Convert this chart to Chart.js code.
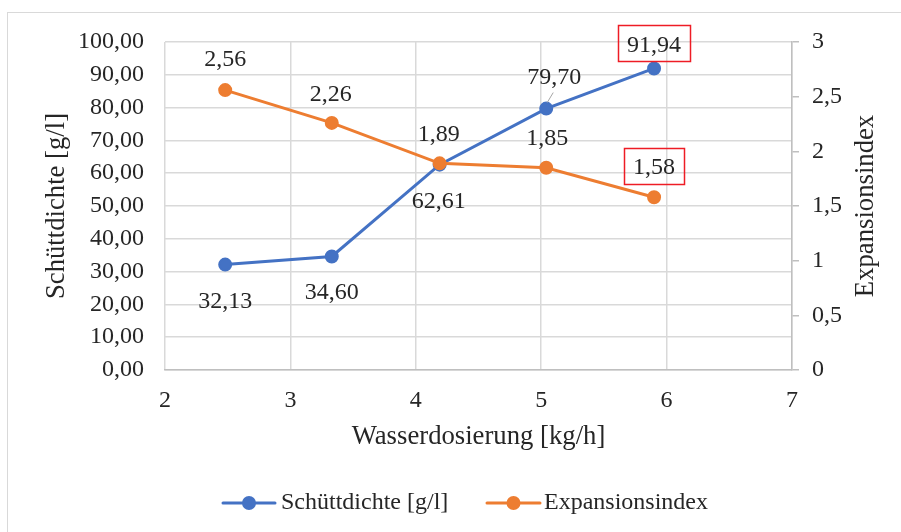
<!DOCTYPE html>
<html>
<head>
<meta charset="utf-8">
<script src="https://cdn.jsdelivr.net/npm/chart.js@4/dist/chart.umd.min.js"></script>
<style>
  html, body { margin: 0; padding: 0; background: #ffffff; }
  #wrap { width: 901px; height: 532px; }
</style>
</head>
<body>
<div id="wrap"><canvas id="chart" width="901" height="532"></canvas></div>
<script>
// Wasserdosierung [kg/h]
const wasserdosierung = [2.48, 3.33, 4.19, 5.04, 5.9];
// Schüttdichte [g/l]
const schuettdichte = [32.13, 34.60, 62.61, 79.70, 91.94];
// Expansionsindex
const expansionsindex = [2.56, 2.26, 1.89, 1.85, 1.58];

const seriesNames = ['Schüttdichte [g/l]', 'Expansionsindex'];
const xTitle = 'Wasserdosierung [kg/h]';

const BLUE = '#4472C4';
const ORANGE = '#ED7D31';
const TEXT = '#262626';
const GRID = '#d9d9d9';
const FONT = '"Liberation Serif", "Times New Roman", serif';
const FS = 24;      // ticks, value labels, legend
const FS_T = 26.7;  // axis titles

const comma = (v, d) => v.toFixed(d).replace('.', ',');

// value label placement relative to each point (dx, dy of the text centre)
const labelStyle = [
  { offsets: [[0, 35], [0, 34], [-1, 35], [8, -33], [0, -25]],
    boxed: [false, false, false, false, true],
    leader: [false, false, false, true, false] },
  { offsets: [[0, -32], [-1, -30], [-1, -30], [1, -31], [0, -31]],
    boxed: [false, false, false, false, true],
    leader: [false, false, false, false, false] }
];

const valueLabels = {
  id: 'valueLabels',
  afterDatasetsDraw(chart) {
    const ctx = chart.ctx;
    ctx.save();
    ctx.font = FS + 'px ' + FONT;
    ctx.textAlign = 'center';
    ctx.textBaseline = 'alphabetic';
    chart.data.datasets.forEach((ds, di) => {
      const meta = chart.getDatasetMeta(di);
      const st = labelStyle[di];
      meta.data.forEach((pt, i) => {
        const text = comma(ds.data[i].y, 2);
        const cx = pt.x + st.offsets[i][0];
        const cy = pt.y + st.offsets[i][1];
        if (st.leader[i]) {
          ctx.strokeStyle = '#a6a6a6';
          ctx.lineWidth = 1;
          ctx.beginPath();
          ctx.moveTo(pt.x + 1, pt.y - 6);
          ctx.lineTo(pt.x + 7, pt.y - 16);
          ctx.stroke();
        }
        ctx.fillStyle = TEXT;
        ctx.fillText(text, cx, cy + FS * 0.338);
        if (st.boxed[i]) {
          const w = ctx.measureText(text).width + 18;
          const h = 36;
          ctx.strokeStyle = '#ee1c25';
          ctx.lineWidth = 1.5;
          ctx.strokeRect(Math.round(cx - w / 2) + 0.5, Math.round(cy - h / 2) + 0.5, Math.round(w), h);
        }
      });
    });
    ctx.restore();
  }
};

// outer frame, right axis title and legend
const decorations = {
  id: 'decorations',
  beforeDraw(chart) {
    const ctx = chart.ctx;
    ctx.save();
    ctx.fillStyle = '#ffffff';
    ctx.fillRect(0, 0, chart.width, chart.height);
    ctx.strokeStyle = GRID;
    ctx.lineWidth = 1;
    ctx.strokeRect(7.5, 12.5, chart.width + 10, chart.height + 10);
    ctx.restore();
  },
  afterDraw(chart) {
    const ctx = chart.ctx;
    const area = chart.chartArea;
    ctx.save();
    ctx.font = FS_T + 'px ' + FONT;
    ctx.fillStyle = TEXT;
    // right axis title, reading upwards
    ctx.translate(866, (area.top + area.bottom) / 2);
    ctx.rotate(-Math.PI / 2);
    ctx.textAlign = 'center';
    ctx.textBaseline = 'middle';
    ctx.fillText('Expansionsindex', 0, 0);
    ctx.restore();

    // legend
    const items = [
      { color: BLUE, x0: 223, x1: 275, tx: 281, text: seriesNames[0] },
      { color: ORANGE, x0: 487, x1: 540, tx: 544, text: seriesNames[1] }
    ];
    const ly = 503;
    ctx.save();
    items.forEach(it => {
      ctx.strokeStyle = it.color;
      ctx.lineWidth = 3;
      ctx.lineCap = 'round';
      ctx.beginPath();
      ctx.moveTo(it.x0, ly);
      ctx.lineTo(it.x1, ly);
      ctx.stroke();
      ctx.fillStyle = it.color;
      ctx.beginPath();
      ctx.arc((it.x0 + it.x1) / 2, ly, 7, 0, Math.PI * 2);
      ctx.fill();
      ctx.fillStyle = TEXT;
      ctx.font = FS + 'px ' + FONT;
      ctx.textAlign = 'left';
      ctx.textBaseline = 'middle';
      ctx.fillText(it.text, it.tx, ly);
    });
    ctx.restore();
  }
};

const toPoints = (ys) => ys.map((y, i) => ({ x: wasserdosierung[i], y }));

new Chart(document.getElementById('chart'), {
  type: 'scatter',
  data: {
    datasets: [
      {
        label: seriesNames[0],
        data: toPoints(schuettdichte),
        yAxisID: 'y',
        showLine: true,
        borderColor: BLUE,
        backgroundColor: BLUE,
        borderWidth: 3,
        pointRadius: 6,
        pointBorderWidth: 2,
        pointBorderColor: BLUE,
        pointBackgroundColor: BLUE,
        order: 1
      },
      {
        label: seriesNames[1],
        data: toPoints(expansionsindex),
        yAxisID: 'y1',
        showLine: true,
        borderColor: ORANGE,
        backgroundColor: ORANGE,
        borderWidth: 3,
        pointRadius: 6,
        pointBorderWidth: 2,
        pointBorderColor: ORANGE,
        pointBackgroundColor: ORANGE,
        order: 0
      }
    ]
  },
  options: {
    responsive: false,
    animation: false,
    layout: { padding: { top: 42, left: 0, right: 0, bottom: 77 } },
    plugins: {
      legend: { display: false },
      tooltip: { enabled: false }
    },
    scales: {
      x: {
        type: 'linear',
        min: 2, max: 7,
        afterFit(s) { s.height = 85; },
        ticks: { stepSize: 1, padding: 16, color: TEXT, font: { family: FONT, size: FS } },
        grid: { color: GRID, lineWidth: 1.5, drawTicks: false },
        border: { color: '#bfbfbf', width: 1.5 },
        title: { display: true, text: xTitle, color: TEXT, padding: { top: 0, bottom: 2 }, font: { family: FONT, size: FS_T } }
      },
      y: {
        position: 'left',
        min: 0, max: 100,
        afterFit(s) { s.width = 165; },
        ticks: { stepSize: 10, padding: 21, color: TEXT, font: { family: FONT, size: FS },
                 callback: (v) => comma(v, 2) },
        grid: { color: GRID, lineWidth: 1.5, drawTicks: false },
        border: { display: false },
        title: { display: true, text: seriesNames[0], color: TEXT, padding: { top: 41, bottom: 0 }, font: { family: FONT, size: FS_T } }
      },
      y1: {
        position: 'right',
        min: 0, max: 3,
        afterFit(s) { s.width = 109; },
        ticks: { stepSize: 0.5, padding: 13, color: TEXT, font: { family: FONT, size: FS },
                 callback: (v) => String(v).replace('.', ',') },
        grid: { drawOnChartArea: false, drawTicks: true, tickLength: 7, color: '#bfbfbf', lineWidth: 1.5 },
        border: { display: true, color: '#bfbfbf', width: 1.5 }
      }
    }
  },
  plugins: [decorations, valueLabels]
});
</script>
</body>
</html>
